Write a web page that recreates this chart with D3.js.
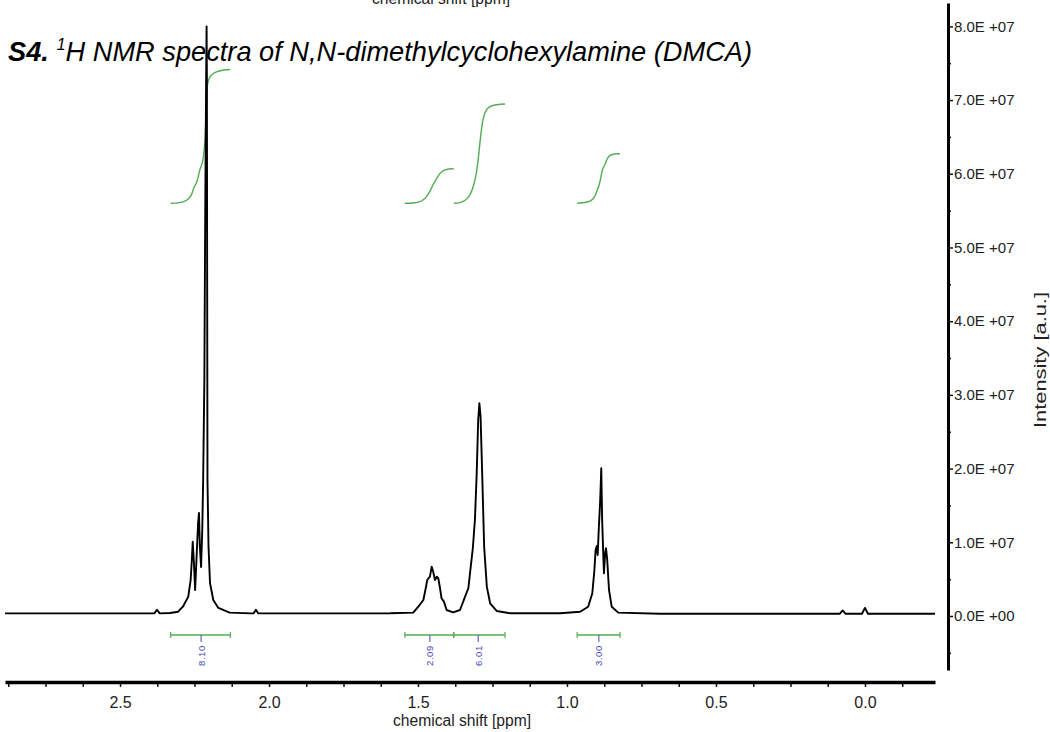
<!DOCTYPE html>
<html>
<head>
<meta charset="utf-8">
<script src="https://cdn.jsdelivr.net/npm/d3@7"></script>
<style>
  html, body { margin: 0; padding: 0; background: #fff; }
  svg { display: block; }
  text { font-family: "Liberation Sans", Arial, sans-serif; }
</style>
</head>
<body>
<svg id="chart" width="1050" height="732"></svg>
<script>
// 1H NMR spectrum of DMCA: [chemical shift (ppm), intensity (x1E7 a.u.)]
const spectrum = [
  [2.886, 0.035], [2.600, 0.035], [2.385, 0.035], [2.376, 0.085], [2.367, 0.035],
  [2.332, 0.040], [2.305, 0.058], [2.289, 0.126], [2.271, 0.262], [2.263, 0.488],
  [2.259, 0.760], [2.256, 1.008], [2.252, 0.719], [2.248, 0.353], [2.243, 0.805],
  [2.238, 1.262], [2.235, 1.398], [2.232, 0.940], [2.228, 0.665], [2.224, 1.167],
  [2.221, 1.845], [2.217, 3.200], [2.214, 5.500], [2.211, 7.300], [2.2095, 8.000],
  [2.2085, 7.300], [2.2075, 4.500], [2.2065, 1.845], [2.203, 0.940], [2.198, 0.448],
  [2.187, 0.217], [2.170, 0.109], [2.132, 0.045], [2.060, 0.035], [2.052, 0.035],
  [2.044, 0.085], [2.036, 0.035], [1.800, 0.035], [1.594, 0.037], [1.516, 0.045],
  [1.499, 0.126], [1.482, 0.217], [1.473, 0.398], [1.469, 0.488], [1.460, 0.533],
  [1.454, 0.669], [1.449, 0.601], [1.443, 0.488], [1.437, 0.533], [1.432, 0.512],
  [1.426, 0.376], [1.421, 0.240], [1.413, 0.195], [1.404, 0.081], [1.382, 0.050],
  [1.359, 0.081], [1.342, 0.262], [1.331, 0.376], [1.323, 0.669], [1.316, 0.919],
  [1.309, 1.303], [1.303, 1.936], [1.298, 2.659], [1.294, 2.886], [1.290, 2.704],
  [1.284, 1.845], [1.278, 0.940], [1.269, 0.398], [1.258, 0.172], [1.236, 0.068],
  [1.191, 0.037], [1.023, 0.037], [0.956, 0.058], [0.929, 0.126], [0.915, 0.308],
  [0.908, 0.624], [0.904, 0.896], [0.900, 0.950], [0.897, 0.828], [0.893, 1.212],
  [0.889, 1.529], [0.887, 1.754], [0.885, 2.004], [0.882, 1.303], [0.878, 0.805],
  [0.876, 0.579], [0.872, 0.851], [0.869, 0.919], [0.865, 0.760], [0.859, 0.353],
  [0.850, 0.126], [0.828, 0.045], [0.688, 0.030], [0.085, 0.030], [0.075, 0.075],
  [0.065, 0.030], [0.010, 0.030], [0.000, 0.110], [-0.010, 0.030], [-0.235, 0.030]
];

// integration regions
const integralLabels = ["8.10", "2.09", "6.01", "3.00"];
const integralValues = [8.10, 2.09, 6.01, 3.00];
const integralFrom   = [2.330, 1.544, 1.380, 0.966];
const integralTo     = [2.130, 1.380, 1.208, 0.822];
const integralPeak   = [2.228, 1.460, 1.298, 0.893];

// axis ticks
const ppmTicks = [2.5, 2.0, 1.5, 1.0, 0.5, 0.0];
const intensityTicks = [0, 1, 2, 3, 4, 5, 6, 7, 8];
const intensityMinorTicks = [-0.5, 0.5, 1.5, 2.5, 3.5, 4.5, 5.5, 6.5, 7.5];

const baseline = 0.035;          // spectrum offset removed before integrating
const integralLevel = 5.6;       // intensity level where integral curves start
const integralUnit = 0.224;      // intensity span of one integral unit

const svg = d3.select("#chart");

const x = d3.scaleLinear().domain([2.886, -0.235]).range([5, 935]);
const y = d3.scaleLinear().domain([-0.733, 8.317]).range([670, 3]);

// axis title of the panel above, clipped by the top edge
svg.append("text")
  .attr("x", 441).attr("y", 4)
  .attr("text-anchor", "middle")
  .attr("font-size", 16)
  .attr("fill", "#222")
  .attr("textLength", 138).attr("lengthAdjust", "spacingAndGlyphs")
  .text("chemical shift [ppm]");

// linear read-out of the spectrum at a given shift
const valueAt = p => {
  for (let k = 0; k < spectrum.length - 1; k++) {
    const a = spectrum[k], b = spectrum[k + 1];
    if (a[0] >= p && b[0] <= p) {
      const t = (a[0] - p) / (a[0] - b[0]);
      return a[1] + t * (b[1] - a[1]);
    }
  }
  return baseline;
};

// integral curves: running area of each region, scaled to its integral value
const green = "#52ad52";
integralValues.forEach((v, i) => {
  const lo = integralTo[i], hi = integralFrom[i];
  const inside = spectrum.filter(d => d[0] < hi && d[0] > lo);
  const seq = [[hi, valueAt(hi)], ...inside, [lo, valueAt(lo)]];
  let acc = 0;
  const cum = [[seq[0][0], 0]];
  for (let k = 1; k < seq.length; k++) {
    const h0 = Math.max(0, seq[k - 1][1] - baseline);
    const h1 = Math.max(0, seq[k][1] - baseline);
    acc += (seq[k - 1][0] - seq[k][0]) * (h0 + h1) / 2;
    cum.push([seq[k][0], acc]);
  }
  const total = acc;
  const line = d3.line()
    .x(d => x(d[0]))
    .y(d => y(integralLevel + (d[1] / total) * v * integralUnit))
    .curve(d3.curveMonotoneX);
  svg.append("path")
    .attr("d", line(cum))
    .attr("fill", "none")
    .attr("stroke", green)
    .attr("stroke-width", 1.4);
});

// spectrum trace
const specLine = d3.line().x(d => x(d[0])).y(d => y(d[1]));
svg.append("path")
  .attr("d", specLine(spectrum))
  .attr("fill", "none")
  .attr("stroke", "#000")
  .attr("stroke-width", 1.9)
  .attr("stroke-linejoin", "round");

// title
const title = svg.append("text")
  .attr("x", 8).attr("y", 61)
  .attr("font-size", 28)
  .attr("font-style", "italic")
  .attr("fill", "#000")
  .attr("textLength", 744).attr("lengthAdjust", "spacingAndGlyphs");
title.append("tspan").attr("font-weight", "bold").text("S4.");
title.append("tspan").text(" ");
title.append("tspan").attr("font-size", 17).attr("dy", -11).text("1");
title.append("tspan").attr("dy", 11).text("H NMR spectra of N,N-dimethylcyclohexylamine (DMCA)");

// integration bars with values
const barY = 635;
const blue = "#4646c0";
integralValues.forEach((v, i) => {
  const g = svg.append("g");
  const x0 = x(integralFrom[i]), x1 = x(integralTo[i]);
  g.append("line").attr("x1", x0).attr("x2", x1).attr("y1", barY).attr("y2", barY)
    .attr("stroke", green).attr("stroke-width", 1.4);
  [x0, x1].forEach(xx => g.append("line")
    .attr("x1", xx).attr("x2", xx).attr("y1", barY - 3).attr("y2", barY + 3)
    .attr("stroke", green).attr("stroke-width", 1.2));
  const xm = x(integralPeak[i]);
  g.append("line").attr("x1", xm).attr("x2", xm).attr("y1", barY).attr("y2", barY + 7)
    .attr("stroke", blue).attr("stroke-width", 1);
  g.append("text")
    .attr("transform", `translate(${xm + 3.5},${barY + 31}) rotate(-90)`)
    .attr("font-size", 9.5)
    .attr("font-family", "DejaVu Sans, sans-serif")
    .attr("fill", blue)
    .attr("letter-spacing", 0.6)
    .text(integralLabels[i]);
});

// x axis
const xAxisY = 682;
const xMinor = d3.range(-0.125, 2.9, 0.125).filter(t => Math.abs(t / 0.5 - Math.round(t / 0.5)) > 1e-6);
svg.append("g")
  .attr("transform", `translate(0,${xAxisY})`)
  .call(d3.axisBottom(x).tickValues(xMinor).tickSize(5).tickSizeOuter(0).tickFormat(""))
  .call(g => g.select(".domain").remove())
  .call(g => g.selectAll(".tick line").attr("stroke", "#111").attr("stroke-width", 1.5));
svg.append("g")
  .attr("transform", `translate(0,${xAxisY})`)
  .call(d3.axisBottom(x).tickValues(ppmTicks).tickSize(5).tickSizeOuter(0).tickPadding(10)
    .tickFormat(d3.format(".1f")))
  .call(g => g.select(".domain").attr("stroke", "#000").attr("stroke-width", 3.5))
  .call(g => g.selectAll(".tick line").attr("stroke", "#111").attr("stroke-width", 1.5))
  .call(g => g.selectAll(".tick text")
    .attr("font-size", 16).attr("fill", "#222")
    .attr("font-family", "Liberation Sans, Arial, sans-serif"));
svg.append("text")
  .attr("x", 462).attr("y", 726)
  .attr("text-anchor", "middle")
  .attr("font-size", 16).attr("fill", "#222")
  .attr("textLength", 138).attr("lengthAdjust", "spacingAndGlyphs")
  .text("chemical shift [ppm]");

// y axis on the right
const yAxisX = 948;
svg.append("g")
  .attr("transform", `translate(${yAxisX},0)`)
  .call(d3.axisRight(y).tickValues(intensityMinorTicks).tickSize(3).tickSizeOuter(0).tickFormat(""))
  .call(g => g.select(".domain").remove())
  .call(g => g.selectAll(".tick line").attr("stroke", "#111").attr("stroke-width", 1.5));
svg.append("g")
  .attr("transform", `translate(${yAxisX},0)`)
  .call(d3.axisRight(y).tickValues(intensityTicks).tickSize(5).tickSizeOuter(0).tickPadding(1)
    .tickFormat(d => d === 0 ? "0.0E +00" : d3.format(".1f")(d) + "E +07"))
  .call(g => g.select(".domain").attr("stroke", "#000").attr("stroke-width", 3))
  .call(g => g.selectAll(".tick line").attr("stroke", "#111").attr("stroke-width", 1.5))
  .call(g => g.selectAll(".tick text")
    .attr("font-size", 15).attr("fill", "#222")
    .attr("font-family", "Liberation Sans, Arial, sans-serif"));
svg.append("text")
  .attr("transform", "translate(1046,360) rotate(-90)")
  .attr("text-anchor", "middle")
  .attr("font-size", 16).attr("fill", "#222")
  .attr("textLength", 136).attr("lengthAdjust", "spacingAndGlyphs")
  .text("Intensity [a.u.]");
</script>
</body>
</html>
